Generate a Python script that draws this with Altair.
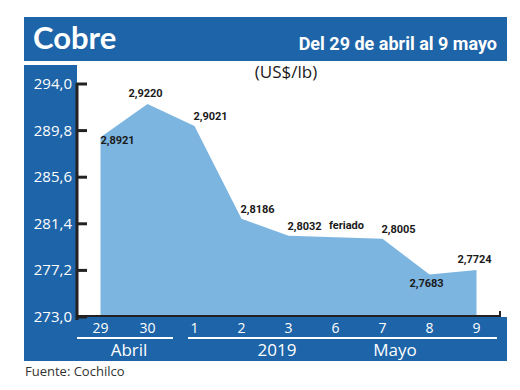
import altair as alt
import pandas as pd

# ---- data ----
categories = ["29", "30", "1", "2", "3", "6", "7", "8", "9"]
price_days = ["29", "30", "1", "2", "3", "7", "8", "9"]
prices = [2.8921, 2.9220, 2.9021, 2.8186, 2.8032, 2.8005, 2.7683, 2.7724]
holiday_day = "6"
holiday_text = "feriado"
y_ticks = [273.0, 277.2, 281.4, 285.6, 289.8, 294.0]
y_min, y_max = 273.0, 294.0
month_labels = ["Abril", "2019", "Mayo"]
title_text = "Cobre"
subtitle_text = "Del 29 de abril al 9 mayo"
unit_text = "(US$/lb)"
source_text = "Fuente: Cochilco"

df = pd.DataFrame({
    "day": price_days,
    "idx": [categories.index(d) for d in price_days],
    "value": [round(p * 100, 2) for p in prices],
    "base": [y_min] * len(prices),
    "label": [f"{p:.4f}".replace(".", ",") for p in prices],
})
ticks_df = pd.DataFrame({
    "value": y_ticks,
    "lab": [f"{t:.1f}".replace(".", ",") for t in y_ticks],
})
cat_df = pd.DataFrame({"day": categories, "idx": list(range(len(categories)))})

W, H = 423, 233
BLUE = "#1e64a8"
LIGHT = "#7db5e1"
COND = "Roboto"
SANS = "Open Sans"

xs = alt.Scale(domain=[-0.5, len(categories) - 0.5], nice=False, zero=False)
ys = alt.Scale(domain=[y_min, y_max], nice=False, zero=False)
X = alt.X("idx:Q", scale=xs, axis=None)
Y = alt.Y("value:Q", scale=ys, axis=None)

one = alt.Data(values=[{}])


def rect(x1, x2, y1, y2, color):
    return alt.Chart(one).mark_rect(color=color).encode(
        x=alt.value(x1), x2=alt.value(x2), y=alt.value(y1), y2=alt.value(y2))


def rule(x1, x2, y1, y2, color, w):
    return alt.Chart(one).mark_rule(color=color, strokeWidth=w).encode(
        x=alt.value(x1), x2=alt.value(x2), y=alt.value(y1), y2=alt.value(y2))


def label(text, x, y, **kw):
    return alt.Chart(one).mark_text(text=text, **kw).encode(
        x=alt.value(x), y=alt.value(y))


header = rect(-53, 430, -67, -23, BLUE)
left_panel = rect(-53, 0, -19, 234, BLUE)
bottom_strip = rect(-53, 430, 233, 277, BLUE)

area = alt.Chart(df).mark_area(color=LIGHT, opacity=1).encode(
    x=X, y=Y, y2="base:Q")

y_axis_line = rule(0, 0, -1, 236, "#222222", 3)
x_axis_line = rule(0, 423, 232, 232, "#222222", 2)
x_axis_end = rule(423, 423, 227, 233, "#222222", 2)

y_tick_marks = alt.Chart(ticks_df).mark_rule(color="#222222", strokeWidth=3).encode(
    x=alt.value(0), x2=alt.value(10), y=Y)
y_tick_labels = alt.Chart(ticks_df).mark_text(
    align="right", baseline="middle", font=SANS, fontSize=15, color="white", dx=-5
).encode(x=alt.value(0), y=Y, text="lab:N")

x_tick_labels = alt.Chart(cat_df).mark_text(
    align="center", baseline="middle", font=SANS, fontSize=14, color="white"
).encode(x=X, y=alt.value(245), text="day:N")

sep1 = rule(0, 96, 254, 254, "white", 2)
sep2 = rule(111, 420, 254, 254, "white", 2)
month_pos = [52, 200, 318]
months = alt.layer(*[
    label(m, px, 267, align="center", baseline="middle", font=SANS, fontSize=17, color="white")
    for m, px in zip(month_labels, month_pos)
])


def value_labels(days, dx, dy):
    return alt.Chart(df).transform_filter(
        alt.FieldOneOfPredicate(field="day", oneOf=days)
    ).mark_text(
        align="center", baseline="middle", font=COND, fontSize=11, fontWeight="bold",
        color="#1a1a1a", dx=dx, dy=dy
    ).encode(x=X, y=Y, text="label:N")


lab_right_below = value_labels(["29"], 17, 4)
lab_above = value_labels(["30", "9"], -2, -10)
lab_above_right = value_labels(["1", "2", "3", "7"], 16, -9)
lab_below = value_labels(["8"], -3, 9)

holiday = alt.Chart(pd.DataFrame({"idx": [categories.index(holiday_day)], "t": [holiday_text]})).mark_text(
    align="center", baseline="middle", font=COND, fontSize=11, fontWeight="bold",
    color="#1a1a1a", dx=11
).encode(x=X, y=alt.value(142), text="t:N")

title = label(title_text, -44, -35, align="left", baseline="alphabetic", font="Lato",
              fontSize=31, fontWeight="bold", color="white")
subtitle = label(subtitle_text, 420, -34, align="right", baseline="alphabetic", font=COND,
                 fontSize=18, fontWeight="bold", color="white")
unit = label(unit_text, 209, -11, align="center", baseline="middle", font=SANS,
             fontSize=17, color="#1a1a1a")
source = label(source_text, -52, 288, align="left", baseline="middle", font=SANS,
               fontSize=13, color="#333333")

chart = alt.layer(
    header, left_panel, bottom_strip, area,
    y_axis_line, x_axis_line, x_axis_end, y_tick_marks, y_tick_labels,
    x_tick_labels, sep1, sep2, months,
    lab_right_below, lab_above, lab_above_right, lab_below, holiday,
    title, subtitle, unit, source,
).properties(
    width=W, height=H,
    autosize=alt.AutoSizeParams(type="none"),
    padding={"left": 69, "top": 76, "right": 12, "bottom": 65},
    background="white",
).configure_view(stroke=None)

chart.save("out.html", embed_options={"renderer": "svg", "actions": False})
